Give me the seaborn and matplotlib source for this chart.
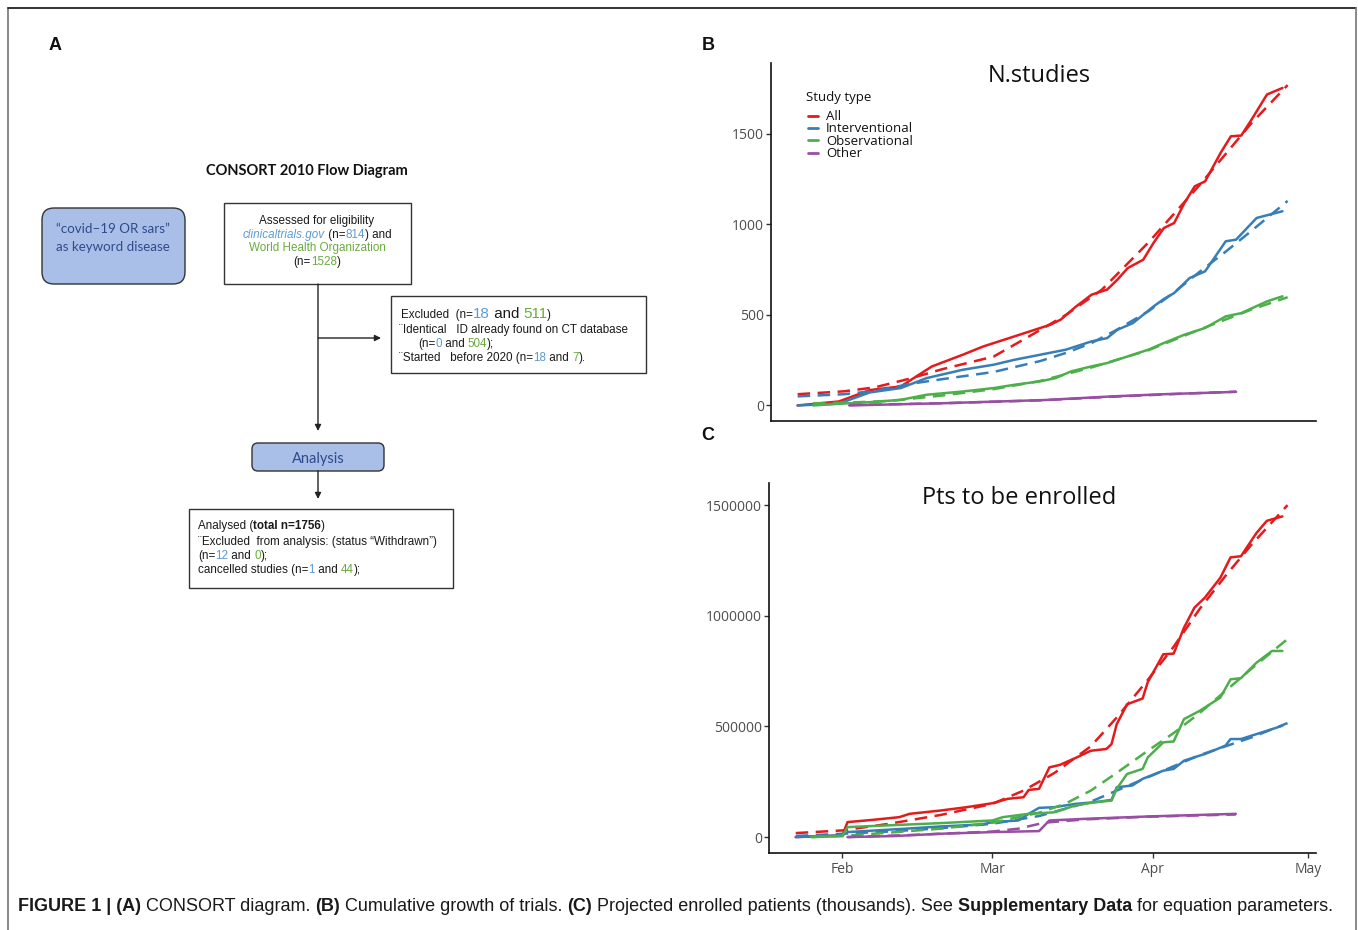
import matplotlib
matplotlib.use("Agg")
import matplotlib.pyplot as plt
from matplotlib.patches import FancyBboxPatch, Rectangle
from matplotlib.lines import Line2D
import seaborn as sns
import pandas as pd

# ------------------------------------------------------------------ data
TYPES = ["All", "Interventional", "Observational", "Other"]
COLORS = ["#E41A1C", "#377EB8", "#4DAF4A", "#984EA3"]

# Panel B: number of studies (observed = solid, fit = dashed)
B_ALL_OBS_D = ["01-23","01-31","02-06","02-12","02-18","02-24","02-28","03-04","03-08","03-12","03-14","03-17","03-20","03-23","03-25","03-27","03-30","04-01","04-03","04-05","04-07","04-09","04-11","04-14","04-16","04-18","04-20","04-23","04-26"]
B_ALL_OBS_V = [0,22,85,105,215,280,326,372,409,446,474,547,612,640,695,759,805,898,980,1008,1119,1211,1238,1395,1487,1491,1579,1718,1754]
B_ALL_FIT_D = ["01-23","02-01","02-07","02-14","02-20","03-01","03-09","03-15","03-22","03-31","04-10","04-20","04-27"]
B_ALL_FIT_V = [62,78,100,150,200,270,400,500,640,900,1220,1560,1770]

B_INT_OBS_D = ["01-23","01-31","02-06","02-12","02-17","02-24","03-01","03-05","03-10","03-15","03-20","03-23","03-25","03-28","04-01","04-03","04-05","04-08","04-11","04-13","04-15","04-17","04-21","04-26"]
B_INT_OBS_V = [0,10,72,96,151,197,225,252,280,308,354,372,418,455,547,588,621,704,741,824,907,916,1036,1073]
B_INT_FIT_D = ["01-23","02-01","02-07","02-14","02-20","03-01","03-10","03-15","03-20","03-25","03-31","04-05","04-10","04-15","04-20","04-27"]
B_INT_FIT_V = [50,62,80,120,145,185,245,290,345,420,520,625,740,850,965,1130]

B_OBS_OBS_D = ["01-26","01-31","02-06","02-12","02-17","02-24","03-01","03-05","03-10","03-13","03-16","03-20","03-23","03-27","03-31","04-03","04-07","04-11","04-15","04-18","04-23","04-26"]
B_OBS_OBS_V = [0,9,18,31,59,77,96,114,133,151,188,216,234,271,308,345,391,428,492,510,575,603]
B_OBS_FIT_D = ["01-26","02-01","02-10","02-20","03-01","03-10","03-20","03-31","04-10","04-20","04-27"]
B_OBS_FIT_V = [12,15,25,55,90,135,210,305,420,530,598]

B_OTH_OBS_D = ["02-02","02-20","03-11","03-24","04-03","04-17"]
B_OTH_OBS_V = [0,12,30,50,62,75]
B_OTH_FIT_D = ["02-02","02-20","03-10","03-24","04-05","04-17"]
B_OTH_FIT_V = [2,12,28,48,63,76]

# Panel C: patients to be enrolled
C_ALL_OBS_D = ["01-23","02-01","02-02","02-07","02-12","02-14","02-20","02-25","03-01","03-04","03-07","03-08","03-10","03-12","03-14","03-17","03-20","03-23","03-24","03-25","03-27","03-30","03-31","04-03","04-05","04-07","04-09","04-11","04-14","04-16","04-18","04-21","04-23","04-26"]
C_ALL_OBS_V = [0,7500,67600,78000,90000,105000,120000,135000,153000,173000,180000,213000,218000,315000,326000,357000,390000,398000,420000,510000,600000,626000,700000,826000,829000,946000,1036000,1081000,1171000,1264000,1269000,1374000,1429000,1449000]
C_ALL_FIT_D = ["01-23","02-01","02-10","02-20","03-01","03-07","03-13","03-20","03-25","03-31","04-05","04-10","04-15","04-20","04-27"]
C_ALL_FIT_V = [18000,30000,60000,100000,150000,210000,290000,410000,540000,710000,860000,1030000,1180000,1320000,1500000]

C_INT_OBS_D = ["01-23","02-01","02-02","02-13","02-20","02-28","03-01","03-06","03-08","03-10","03-13","03-17","03-21","03-24","03-25","03-28","03-30","04-03","04-05","04-07","04-10","04-11","04-15","04-16","04-18","04-23","04-26"]
C_INT_OBS_V = [0,7500,22500,37500,48000,57000,67500,75000,105000,132000,135000,150000,158000,168000,225000,233000,263000,300000,308000,345000,368000,375000,413000,443000,443000,480000,503000]
C_INT_FIT_D = ["01-23","02-01","02-10","02-20","03-01","03-10","03-20","03-31","04-10","04-20","04-27"]
C_INT_FIT_V = [5000,15000,25000,40000,60000,95000,160000,270000,370000,450000,515000]

C_OBS_OBS_D = ["01-26","02-01","02-02","02-12","02-20","03-01","03-03","03-08","03-13","03-17","03-21","03-24","03-25","03-27","03-30","03-31","04-03","04-05","04-07","04-10","04-14","04-16","04-18","04-21","04-24","04-26"]
C_OBS_OBS_V = [0,4500,45000,55000,63000,75000,90000,105000,112000,143000,158000,165000,218000,285000,308000,360000,428000,432000,533000,570000,630000,713000,718000,788000,841000,841000]
C_OBS_FIT_D = ["01-26","02-01","02-10","02-20","03-01","03-10","03-15","03-20","03-25","03-31","04-05","04-10","04-15","04-20","04-27"]
C_OBS_FIT_V = [0,5000,20000,38000,65000,110000,150000,210000,290000,390000,470000,560000,660000,760000,895000]

C_OTH_OBS_D = ["02-02","02-11","02-20","03-01","03-10","03-12","03-19","03-31","04-17"]
C_OTH_OBS_V = [0,4500,15000,22500,27000,75000,82500,93000,105000]
C_OTH_FIT_D = ["02-02","02-15","03-01","03-06","03-11","03-19","03-31","04-17"]
C_OTH_FIT_V = [0,10000,25000,38000,65000,80000,92000,102000]

B_YTICKS = [0, 500, 1000, 1500]
C_YTICKS = [0, 500000, 1000000, 1500000]
X_TICKS = ["2020-02-01", "2020-03-01", "2020-04-01", "2020-05-01"]
X_TICK_LABELS = ["Feb", "Mar", "Apr", "May"]

B_SERIES = [
    ("All", "observed", B_ALL_OBS_D, B_ALL_OBS_V), ("All", "fit", B_ALL_FIT_D, B_ALL_FIT_V),
    ("Interventional", "observed", B_INT_OBS_D, B_INT_OBS_V), ("Interventional", "fit", B_INT_FIT_D, B_INT_FIT_V),
    ("Observational", "observed", B_OBS_OBS_D, B_OBS_OBS_V), ("Observational", "fit", B_OBS_FIT_D, B_OBS_FIT_V),
    ("Other", "observed", B_OTH_OBS_D, B_OTH_OBS_V), ("Other", "fit", B_OTH_FIT_D, B_OTH_FIT_V),
]
C_SERIES = [
    ("All", "observed", C_ALL_OBS_D, C_ALL_OBS_V), ("All", "fit", C_ALL_FIT_D, C_ALL_FIT_V),
    ("Interventional", "observed", C_INT_OBS_D, C_INT_OBS_V), ("Interventional", "fit", C_INT_FIT_D, C_INT_FIT_V),
    ("Observational", "observed", C_OBS_OBS_D, C_OBS_OBS_V), ("Observational", "fit", C_OBS_FIT_D, C_OBS_FIT_V),
    ("Other", "observed", C_OTH_OBS_D, C_OTH_OBS_V), ("Other", "fit", C_OTH_FIT_D, C_OTH_FIT_V),
]


def to_frame(series):
    rows = []
    for typ, kind, dates, vals in series:
        for d, v in zip(dates, vals):
            rows.append({"date": pd.Timestamp("2020-" + d), "value": v, "type": typ, "kind": kind})
    return pd.DataFrame(rows)


# ------------------------------------------------------------------ style
sns.set_theme(style="white")
plt.rcParams["font.family"] = ["Open Sans", "DejaVu Sans"]

W, H = 1358, 930
fig = plt.figure(figsize=(W / 100, H / 100), dpi=100)
fig.patch.set_facecolor("white")

ov = fig.add_axes([0, 0, 1, 1])
ov.set_xlim(0, W)
ov.set_ylim(H, 0)
ov.axis("off")
renderer = fig.canvas.get_renderer()

SANS = ["Liberation Sans", "DejaVu Sans"]


def text_w(s, **kw):
    t = ov.text(0, 0, s + "|", **kw)
    w1 = t.get_window_extent(renderer).width
    t.remove()
    t = ov.text(0, 0, "|", **kw)
    w2 = t.get_window_extent(renderer).width
    t.remove()
    return w1 - w2


def rich(x, y, segs, size=8, family=SANS, ha="left", target_w=None):
    def props(opt, sz):
        return dict(fontsize=sz * opt.get("scale", 1.0), family=family,
                    color=opt.get("color", "#1a1a1a"),
                    fontweight=opt.get("weight", "normal"),
                    fontstyle=opt.get("style", "normal"))
    widths = [text_w(s, **props(o, size)) for s, o in segs]
    if target_w is not None:
        size = size * target_w / sum(widths)
        widths = [text_w(s, **props(o, size)) for s, o in segs]
    total = sum(widths)
    if ha == "center":
        x = x - total / 2
    for (s, o), w in zip(segs, widths):
        ov.text(x, y, s, va="baseline", ha="left", **props(o, size))
        x += w


# ------------------------------------------------------------------ frame
ov.plot([7.5, 7.5], [8.5, H], color="#808080", lw=1.3)
ov.plot([7.5, 1355.5], [8.5, 8.5], color="#222222", lw=1.3)
ov.plot([1355.5, 1355.5], [8.5, H], color="#808080", lw=1.3)

# panel letters
for lab, x, y in [("A", 55, 49.5), ("B", 708, 49.5), ("C", 708, 439.5)]:
    ov.text(x, y, lab, ha="center", va="baseline", fontsize=13, fontweight="bold", family=SANS, color="#111")

# ------------------------------------------------------------------ panel A: flow diagram
BLUE_T = "#5B9BD5"
GREEN_T = "#6AAB3E"
NAVY = "#2F4A8E"
FILL = "#A9BFE7"

ov.text(307, 175, "CONSORT 2010 Flow Diagram", ha="center", va="baseline", fontsize=10.5,
        fontweight="bold", family=["Lato", "DejaVu Sans"], color="#111")

ov.add_patch(FancyBboxPatch((42, 208), 143, 76, boxstyle="round,pad=0,rounding_size=12",
                            fc=FILL, ec="#333333", lw=1.0))
ov.text(113, 233, "\u201ccovid\u201319 OR sars\u201d", ha="center", va="baseline", fontsize=9.6,
        family=["Lato", "DejaVu Sans"], color=NAVY)
ov.text(113, 251, "as keyword disease", ha="center", va="baseline", fontsize=9.6,
        family=["Lato", "DejaVu Sans"], color=NAVY)

ov.add_patch(Rectangle((224, 203), 187, 81, fc="white", ec="#333333", lw=1.0))
FS = 8.4
rich(317, 224, [("Assessed for eligibility", {})], size=FS, ha="center")
rich(317, 238, [("clinicaltrials.gov", {"color": BLUE_T, "style": "italic"}), (" (n=", {}),
                ("814", {"color": BLUE_T}), (") and", {})], size=FS, ha="center")
rich(317, 251, [("World Health Organization", {"color": GREEN_T})], size=FS, ha="center")
rich(317, 265, [("(n=", {}), ("1528", {"color": GREEN_T}), (")", {})], size=FS, ha="center")

ov.add_patch(Rectangle((391, 296), 255, 77, fc="white", ec="#333333", lw=1.0))
rich(401, 318, [("Excluded  (n=", {}), ("18", {"color": BLUE_T, "scale": 1.3}),
                (" and ", {"scale": 1.3}), ("511", {"color": GREEN_T, "scale": 1.3}), (")", {})], size=FS)
rich(399, 333, [("\u00a8Identical   ID already found on CT database", {})], size=FS)
rich(418, 347, [("(n=", {}), ("0", {"color": BLUE_T}), (" and ", {}), ("504", {"color": GREEN_T}), (");", {})], size=FS)
rich(399, 361, [("\u00a8Started   before 2020 (n=", {}), ("18", {"color": BLUE_T}), (" and ", {}),
                ("7", {"color": GREEN_T}), (").", {})], size=FS)

ov.add_patch(FancyBboxPatch((252, 443), 132, 28, boxstyle="round,pad=0,rounding_size=6",
                            fc=FILL, ec="#333333", lw=1.0))
ov.text(318, 463, "Analysis", ha="center", va="baseline", fontsize=10.5,
        family=["Lato", "DejaVu Sans"], color=NAVY)

ov.add_patch(Rectangle((189, 509), 264, 79, fc="white", ec="#333333", lw=1.0))
rich(198, 529, [("Analysed (", {}), ("total n=1756", {"weight": "bold"}), (")", {})], size=FS)
rich(198, 545, [("\u00a8Excluded  from analysis: (status \u201cWithdrawn\u201d)", {})], size=FS)
rich(198, 559, [("(n=", {}), ("12", {"color": BLUE_T}), (" and ", {}), ("0", {"color": GREEN_T}), (");", {})], size=FS)
rich(198, 573, [("cancelled studies (n=", {}), ("1", {"color": BLUE_T}), (" and ", {}),
                ("44", {"color": GREEN_T}), (");", {})], size=FS)

arrow = dict(arrowstyle="-|>", color="#222222", lw=1.0, mutation_scale=9, shrinkA=0, shrinkB=0)
ov.annotate("", xy=(318, 431), xytext=(318, 284), arrowprops=arrow)
ov.annotate("", xy=(381, 338), xytext=(318, 338), arrowprops=arrow)
ov.annotate("", xy=(318, 499), xytext=(318, 471), arrowprops=arrow)

# ------------------------------------------------------------------ caption
rich(18, 911, [("FIGURE 1 | (A)", {"weight": "bold"}), (" CONSORT diagram. ", {}),
               ("(B)", {"weight": "bold"}), (" Cumulative growth of trials. ", {}),
               ("(C)", {"weight": "bold"}), (" Projected enrolled patients (thousands). See ", {}),
               ("Supplementary Data", {"weight": "bold"}), (" for equation parameters.", {})],
     size=11.5, target_w=1322)

# ------------------------------------------------------------------ panels B and C
XLIM = (pd.Timestamp("2020-01-17 20:00"), pd.Timestamp("2020-05-02 12:00"))
palette = dict(zip(TYPES, COLORS))
dashes = {"observed": "", "fit": (5, 3)}


def make_axes(left, right, top, bottom):
    return fig.add_axes([left / W, 1 - bottom / H, (right - left) / W, (bottom - top) / H])


def style_axes(ax):
    ax.set_facecolor("none")
    for s in ["top", "right"]:
        ax.spines[s].set_visible(False)
    for s in ["left", "bottom"]:
        ax.spines[s].set_color("#111111")
        ax.spines[s].set_linewidth(1.2)
    ax.tick_params(axis="both", which="both", direction="out", length=3.5, width=1.0, color="#333333",
                   labelsize=10, labelcolor="#4D4D4D", pad=1.5, left=True, bottom=True)
    ax.set_xlabel("")
    ax.set_ylabel("")
    ax.grid(False)


axB = make_axes(771, 1316, 63, 421)
sns.lineplot(data=to_frame(B_SERIES), x="date", y="value", hue="type", style="kind",
             hue_order=TYPES, style_order=["observed", "fit"], palette=palette, dashes=dashes,
             estimator=None, linewidth=1.8, legend=False, ax=axB)
style_axes(axB)
axB.set_xlim(*XLIM)
axB.set_ylim(-86, 1892)
axB.set_yticks(B_YTICKS)
axB.set_yticklabels([str(v) for v in B_YTICKS])
axB.tick_params(axis="x", length=0, labelbottom=False)

axC = make_axes(769, 1316, 483, 853)
sns.lineplot(data=to_frame(C_SERIES), x="date", y="value", hue="type", style="kind",
             hue_order=TYPES, style_order=["observed", "fit"], palette=palette, dashes=dashes,
             estimator=None, linewidth=1.8, legend=False, ax=axC)
style_axes(axC)
axC.set_xlim(*XLIM)
axC.set_ylim(-72000, 1600000)
axC.set_yticks(C_YTICKS)
axC.set_yticklabels([str(v) for v in C_YTICKS])
axC.set_xticks([pd.Timestamp(d) for d in X_TICKS])
axC.set_xticklabels(X_TICK_LABELS)
axC.tick_params(axis="x", pad=3)

# titles
ov.text(1039, 81.5, "N.studies", ha="center", va="baseline", fontsize=17, color="#111")
ov.text(1019, 504, "Pts to be enrolled", ha="center", va="baseline", fontsize=17, color="#111")

# legend (manual, tightly packed like the reference)
ov.text(806, 100.5, "Study type", ha="left", va="baseline", fontsize=9.5, color="#111")
for i, (lab, col) in enumerate(zip(TYPES, COLORS)):
    yk = 116 + 12.2 * i
    ov.add_line(Line2D([808, 818], [yk, yk], color=col, lw=2.0))
    ov.text(826, yk + 4.3, lab, ha="left", va="baseline", fontsize=9.5, color="#111")

fig.savefig("out.png", dpi=100, facecolor="white")
